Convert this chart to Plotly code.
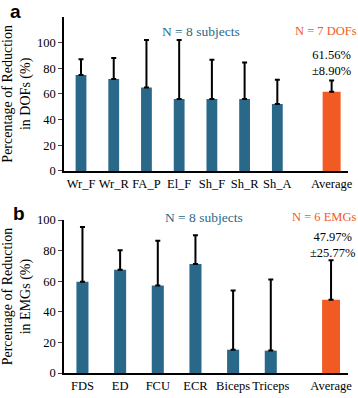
import plotly.graph_objects as go

# ---- data ----
dof_labels = ["Wr_F", "Wr_R", "FA_P", "El_F", "Sh_F", "Sh_R", "Sh_A"]
dof_means = [74.6, 71.6, 65.0, 56.0, 56.0, 56.0, 52.0]
dof_errs = [12.4, 16.4, 37.0, 46.0, 30.5, 28.5, 19.0]
dof_avg_mean = 61.56
dof_avg_err = 8.90

emg_labels = ["FDS", "ED", "FCU", "ECR", "Biceps", "Triceps"]
emg_means = [59.7, 67.5, 57.2, 71.3, 15.3, 14.7]
emg_errs = [35.7, 12.8, 29.2, 18.8, 38.7, 46.5]
emg_avg_mean = 47.97
emg_avg_err = 25.77

avg_label = "Average"
y_ticks_a = [0, 20, 40, 60, 80, 100]
y_ticks_b = [0, 20, 40, 60, 80, 100]

# ---- style ----
BLUE = "#2a6889"
ORANGE = "#f15a22"
SERIF = "Liberation Serif, Times New Roman, serif"
SANS = "Liberation Sans, Arial, sans-serif"
W, H = 358, 398
ML, MR, MT, MB = 58, 10, 5, 15
PW = W - ML - MR
PH = H - MT - MB


def px_to_py(py):
    return (H - MB - py) / PH


def px_to_px(px):
    return (px - ML) / PW


fig = go.Figure()


def add_panel(xa, ya, labels, means, errs, avg_m, avg_e, gap, bw, abw):
    n = len(labels)
    xs = list(range(n))
    xavg = n - 1 + gap
    fig.add_trace(go.Bar(
        x=xs, y=means, width=[bw] * n, marker_color=BLUE, marker_line_width=0,
        error_y=dict(type="data", symmetric=False, array=errs, arrayminus=[0] * n,
                     color="black", thickness=2, width=2.5),
        xaxis=xa, yaxis=ya, showlegend=False, hoverinfo="skip"))
    fig.add_trace(go.Bar(
        x=[xavg], y=[avg_m], width=[abw], marker_color=ORANGE, marker_line_width=0,
        error_y=dict(type="data", symmetric=False, array=[avg_e], arrayminus=[0],
                     color="black", thickness=2, width=2.5),
        xaxis=xa, yaxis=ya, showlegend=False, hoverinfo="skip"))
    return xs + [xavg], labels + [avg_label], xavg


# panel a
tv_a, tt_a, xavg_a = add_panel("x", "y", dof_labels, dof_means, dof_errs,
                               dof_avg_mean, dof_avg_err, 1.66, 0.33, 0.55)
# panel b
tv_b, tt_b, xavg_b = add_panel("x2", "y2", emg_labels, emg_means, emg_errs,
                               emg_avg_mean, emg_avg_err, 1.6, 0.32, 0.475)

axis_common = dict(showline=True, linecolor="black", linewidth=1.5, showgrid=False,
                   zeroline=False, tickfont=dict(family=SERIF, size=12.5, color="black"))

fig.update_layout(
    width=W, height=H, margin=dict(l=ML, r=MR, t=MT, b=MB),
    plot_bgcolor="white", paper_bgcolor="white", barmode="overlay",
    xaxis=dict(domain=[0, 1], range=[-0.52, 8.16], tickvals=tv_a, ticktext=tt_a,
               ticks="", anchor="y", **axis_common),
    yaxis=dict(domain=[px_to_py(170), px_to_py(10)], range=[0, 120], tickvals=y_ticks_a,
               ticks="outside", ticklen=4, tickwidth=1, anchor="x",
               title=dict(text="Percentage of Reduction<br>in DOFs (%)",
                          font=dict(family=SERIF, size=14, color="black"), standoff=4),
               **axis_common),
    xaxis2=dict(domain=[0, 1], range=[-0.49, 7.05], tickvals=tv_b, ticktext=tt_b,
                ticks="", anchor="y2", **axis_common),
    yaxis2=dict(domain=[px_to_py(380), px_to_py(221)], range=[0, 100], tickvals=y_ticks_b,
                ticks="outside", ticklen=4, tickwidth=1, anchor="x2",
                title=dict(text="Percentage of Reduction<br>in EMGs (%)",
                           font=dict(family=SERIF, size=14, color="black"), standoff=4),
                **axis_common),
)


def note(text, x, y, size, color, family=SERIF, xref="paper", yref="paper"):
    return dict(text=text, x=x, y=y, xref=xref, yref=yref, showarrow=False,
                xanchor="center", yanchor="middle",
                font=dict(family=family, size=size, color=color))


ann = [
    note("<b>a</b>", px_to_px(8), px_to_py(4), 19, "black", SANS),
    note("<b>b</b>", px_to_px(12), px_to_py(214), 19, "black", SANS),
    note("N = 8 subjects", px_to_px(198), px_to_py(25), 13.5, BLUE),
    note("N = 7 DOFs", px_to_px(326), px_to_py(25), 12.5, ORANGE),
    note("N = 8 subjects", px_to_px(201), px_to_py(218), 13.5, BLUE),
    note("N = 6 EMGs", px_to_px(324), px_to_py(218), 12.5, ORANGE),
    note(f"{dof_avg_mean:.2f}%<br>±{dof_avg_err:.2f}%", xavg_a, 84, 12.5, "black",
         xref="x", yref="y"),
    note(f"{emg_avg_mean:.2f}%<br>±{emg_avg_err:.2f}%", xavg_b + 0.05, 83.8, 12.5, "black",
         xref="x2", yref="y2"),
]
fig.update_layout(annotations=ann)

fig.write_html("out.html", config={"displayModeBar": False},
               post_script="document.body.style.margin='0';")
